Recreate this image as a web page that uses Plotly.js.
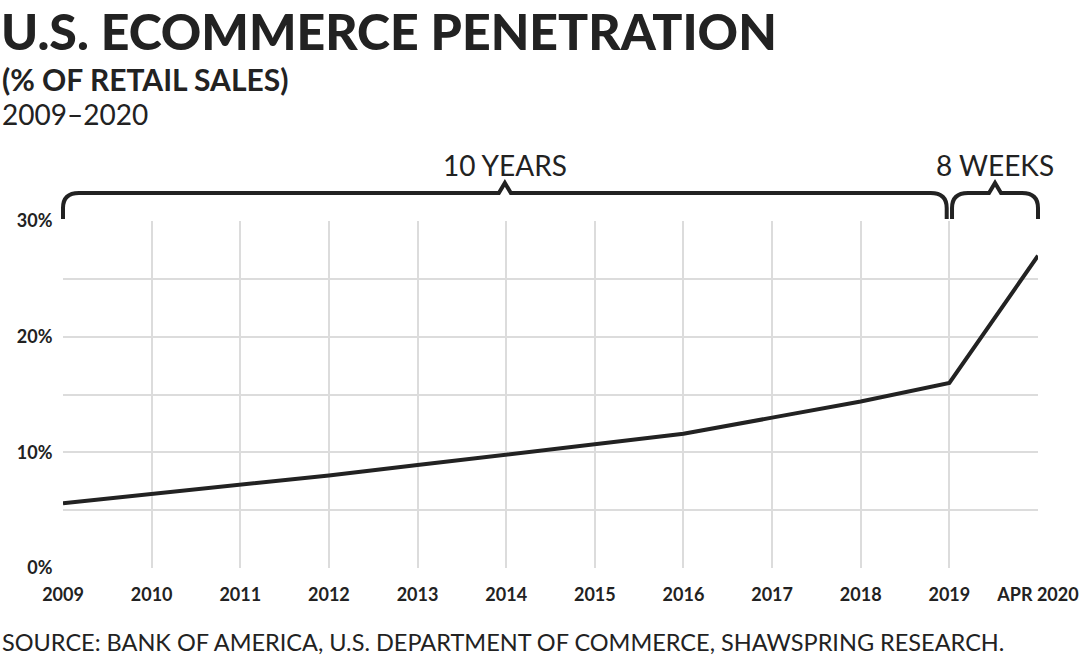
<!DOCTYPE html>
<html>
<head>
<meta charset="utf-8">
<script src="https://cdn.plot.ly/plotly-3.0.1.min.js"></script>
<style>
html,body{margin:0;padding:0;background:#fff;}
#chart{width:1091px;height:668px;}
</style>
</head>
<body>
<div id="chart"></div>
<script>
// ---- data ----
const categories = ["2009","2010","2011","2012","2013","2014","2015","2016","2017","2018","2019","APR 2020"];
const penetration = [5.6, 6.4, 7.2, 8.0, 8.9, 9.8, 10.7, 11.6, 13.0, 14.4, 16.0, 27.0];
const yTickVals = [0, 5, 10, 15, 20, 25, 30];
const yTickText = ["0%", "", "10%", "", "20%", "", "30%"];
const braceLabels = ["10 YEARS", "8 WEEKS"];
const braceSpans = [[0, 9.97], [10.03, 11]];

const FONT = "Lato, 'Open Sans', sans-serif";
const INK = "#222222";

// plot geometry (px) for converting brace sizes into paper units
const W = 1091, H = 668, L = 63, R = 53, T = 221, B = 100;
const PW = W - L - R, PH = H - T - B;
const nSteps = categories.length - 1;

function braceShape(a, b) {
  const xa = a / nSteps, xb = b / nSteps, xm = (xa + xb) / 2;
  const yTop = 1 + 28 / PH, yBot = 1 + 2 / PH;
  const rx = 16 / PW, ry = 15 / PH;
  const tw = 6 / PW, th = 10 / PH;
  const p = [
    `M ${xa} ${yBot}`,
    `L ${xa} ${yTop - ry}`,
    `Q ${xa} ${yTop} ${xa + rx} ${yTop}`,
    `L ${xm - tw} ${yTop}`,
    `L ${xm} ${yTop + th}`,
    `L ${xm + tw} ${yTop}`,
    `L ${xb - rx} ${yTop}`,
    `Q ${xb} ${yTop} ${xb} ${yTop - ry}`,
    `L ${xb} ${yBot}`
  ].join(" ");
  return {type: "path", xref: "paper", yref: "paper", path: p,
          line: {color: INK, width: 4}, layer: "above"};
}

const px2x = px => (px - L) / PW;
const py2y = py => (H - B - py) / PH;

const trace = {
  x: categories,
  y: penetration,
  type: "scatter",
  mode: "lines",
  line: {color: INK, width: 4},
  hoverinfo: "x+y"
};

const annotations = [
  {text: "U.S. ECOMMERCE PENETRATION", xref: "paper", yref: "paper", x: px2x(-1), y: py2y(31),
   xanchor: "left", yanchor: "middle", showarrow: false,
   font: {family: FONT, size: 50, color: INK, weight: 900}},
  {text: "(% OF RETAIL SALES)", xref: "paper", yref: "paper", x: px2x(0), y: py2y(79),
   xanchor: "left", yanchor: "middle", showarrow: false,
   font: {family: FONT, size: 30, color: INK, weight: 700}},
  {text: "2009–2020", xref: "paper", yref: "paper", x: px2x(0), y: py2y(114),
   xanchor: "left", yanchor: "middle", showarrow: false,
   font: {family: FONT, size: 28, color: INK, weight: 400}},
  {text: "SOURCE: BANK OF AMERICA, U.S. DEPARTMENT OF COMMERCE, SHAWSPRING RESEARCH.", xref: "paper", yref: "paper", x: px2x(0), y: py2y(642),
   xanchor: "left", yanchor: "middle", showarrow: false,
   font: {family: FONT, size: 23.5, color: INK, weight: 400}}
];
braceSpans.forEach((s, i) => {
  annotations.push({text: braceLabels[i], xref: "paper", yref: "paper",
    x: (s[0] + s[1]) / 2 / nSteps, y: py2y(165), xanchor: "center", yanchor: "middle",
    showarrow: false, font: {family: FONT, size: 28, color: INK, weight: 400}});
});

const layout = {
  width: W, height: H,
  margin: {l: L, r: R, t: T, b: B, pad: 0},
  paper_bgcolor: "#ffffff",
  plot_bgcolor: "#ffffff",
  showlegend: false,
  font: {family: FONT, color: INK},
  xaxis: {
    type: "category",
    range: [0, nSteps],
    showgrid: true, gridcolor: "#dcdcdc", gridwidth: 2,
    zeroline: false, showline: false,
    ticks: "outside", ticklen: 10, tickcolor: "rgba(0,0,0,0)",
    tickfont: {family: FONT, size: 18, color: INK, weight: 700},
    fixedrange: true
  },
  yaxis: {
    range: [0, 30],
    tickmode: "array", tickvals: yTickVals, ticktext: yTickText,
    showgrid: true, gridcolor: "#dcdcdc", gridwidth: 2,
    zeroline: false, showline: false,
    ticks: "outside", ticklen: 6, tickcolor: "rgba(0,0,0,0)",
    tickfont: {family: FONT, size: 18, color: INK, weight: 700},
    fixedrange: true
  },
  shapes: braceSpans.map(s => braceShape(s[0], s[1])),
  annotations: annotations
};

Plotly.newPlot("chart", [trace], layout, {displayModeBar: false, responsive: false});
</script>
</body>
</html>
